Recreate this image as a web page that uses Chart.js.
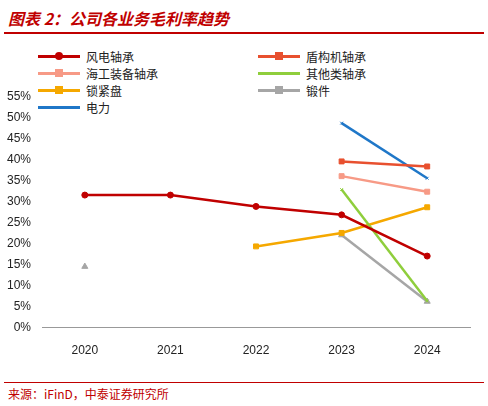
<!DOCTYPE html>
<html><head><meta charset="UTF-8">
<script src="https://cdn.jsdelivr.net/npm/chart.js"></script>
<style>
body{margin:0;width:488px;height:406px;position:relative;background:#fff;font-family:"Noto Sans CJK SC",sans-serif;overflow:hidden}
#title{position:absolute;left:8px;top:6px;color:#c00000;font-size:16px;font-weight:bold;font-style:italic}
#tl{position:absolute;left:4px;right:4px;top:32px;border-top:2px solid #c00000}
#bl{position:absolute;left:4px;right:4px;top:382px;border-top:1px solid #c00000}
#src{position:absolute;left:8px;top:385px;font-size:12px;color:#c00000}
#wrap{position:absolute;left:0;top:86px;width:488px;height:280px}
#legend{position:absolute;left:0;top:48px;font-size:12px;color:#222}
.li{position:absolute;white-space:nowrap;display:flex;align-items:center}
.li span.ln{display:inline-block;width:42px;height:3px;margin-right:6px;position:relative}
.li span.mk{position:absolute;left:17px;top:-3px;width:8px;height:8px}
</style></head><body>
<div id="title">图表 2：公司各业务毛利率趋势</div><div id="tl"></div>
<div id="legend"></div>
<div id="wrap"><canvas id="c"></canvas></div>
<div id="bl"></div><div id="src">来源：iFinD，中泰证券研究所</div>
<script>
const years = ["2020","2021","2022","2023","2024"];
const fengdian = [31.5,31.5,28.8,26.8,17.0];
const dungou = [null,null,null,39.5,38.3];
const haigong = [null,null,null,36.0,32.3];
const qita = [null,null,null,32.8,6.3];
const suojin = [null,null,19.3,22.5,28.6];
const duanjian = [14.5,null,null,22.0,6.2];
const dianli = [null,null,null,48.6,35.5];
const names = ["风电轴承","盾构机轴承","海工装备轴承","其他类轴承","锁紧盘","锻件","电力"];
const colors = ["#c00000","#e8502f","#f79a86","#8fce3c","#f5a800","#a6a6a6","#1f77c8"];
const series = [fengdian,dungou,haigong,qita,suojin,duanjian,dianli];
const styles = ["circle","rect","rect","crossRot","rect","triangle","crossRot"];
const sizes = [3,3.5,3.5,2,3.5,3.5,2];

const pos = [[38,0],[258,0],[38,17],[258,17],[38,34],[258,34],[38,51]];
const lg = document.getElementById("legend");
names.forEach((n,i)=>{
  const d=document.createElement("div");d.className="li";
  d.style.left=pos[i][0]+"px";d.style.top=pos[i][1]+"px";
  const mk = styles[i]==="circle"?"border-radius:50%;":(styles[i]==="crossRot"?"display:none;":"");
  d.innerHTML=`<span class="ln" style="background:${colors[i]}"><span class="mk" style="background:${colors[i]};${mk}"></span></span>${n}`;
  lg.appendChild(d);
});

new Chart(document.getElementById("c"),{
  type:"line",
  data:{labels:years,datasets:series.map((s,i)=>({label:names[i],data:s,borderColor:colors[i],backgroundColor:colors[i],
    borderWidth:2.5,pointStyle:styles[i],pointRadius:sizes[i],pointBorderWidth:1,spanGaps:false,tension:0}))},
  options:{responsive:true,maintainAspectRatio:false,animation:false,
    layout:{padding:{left:4,right:18,top:6,bottom:0}},
    plugins:{legend:{display:false},tooltip:{enabled:false}},
    scales:{
      x:{offset:true,grid:{display:false},border:{color:"#999"},ticks:{color:"#222",padding:8,font:{size:12,family:"Liberation Sans"}}},
      y:{min:0,max:55,grid:{display:false},border:{display:false},
        ticks:{stepSize:5,color:"#222",font:{size:12,family:"Liberation Sans"},callback:v=>v+"%"}}
    }}
});
</script></body></html>
